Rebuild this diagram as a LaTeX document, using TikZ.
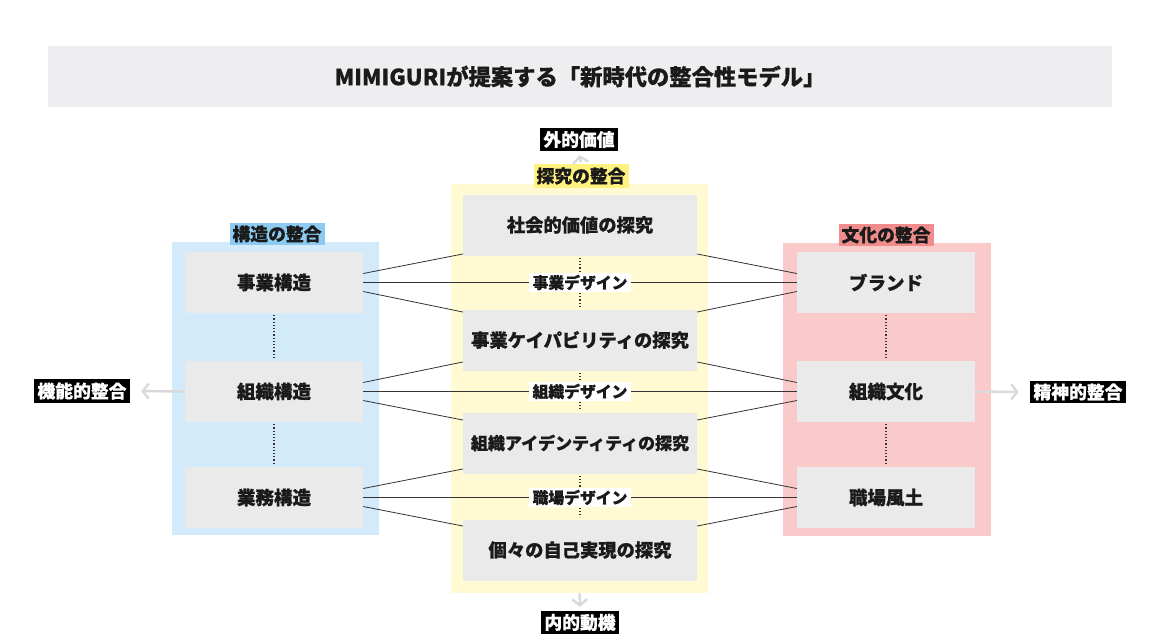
\documentclass[tikz,border=0pt]{standalone}
\usepackage{fontspec}
\setmainfont{Noto Sans CJK JP}[BoldFeatures={FakeBold=0.6}]
\usetikzlibrary{arrows.meta,calc}
\definecolor{bluep}{HTML}{D3EAFB}
\definecolor{bluel}{HTML}{8CCBF1}
\definecolor{yellowp}{HTML}{FFFAD2}
\definecolor{yellowl}{HTML}{FFF27E}
\definecolor{pinkp}{HTML}{FACACA}
\definecolor{pinkl}{HTML}{F08C8C}
\definecolor{boxg}{HTML}{EAEAEA}
\definecolor{titleg}{HTML}{EEEEF0}
\definecolor{linec}{HTML}{333333}
\definecolor{txt}{HTML}{1A1A1A}
\definecolor{arrowg}{HTML}{DADADA}
\tikzset{
  panel/.style={inner sep=0pt, draw=none},
  gbox/.style={fill=boxg, inner sep=0pt, minimum width=178pt, minimum height=61pt, text=txt, font=\bfseries\fontsize{18.5}{18.5}\selectfont},
  cbox/.style={fill=boxg, inner sep=0pt, minimum width=234pt, minimum height=61pt, text=txt, font=\bfseries\fontsize{18.3}{18.3}\selectfont},
  grouplabel/.style={inner xsep=3pt, inner ysep=3pt, text=txt, font=\bfseries\fontsize{17.8}{17.8}\selectfont},
  darklabel/.style={fill=black, text=white, inner xsep=3.5pt, inner ysep=3pt, font=\bfseries\fontsize{17.8}{17.8}\selectfont},
  designlabel/.style={fill=white, text=txt, inner xsep=3.5pt, inner ysep=1.5pt, font=\bfseries\fontsize{15.8}{15.8}\selectfont},
  conn/.style={draw=linec, line width=0.8pt},
  dots/.style={draw=linec, line width=1.2pt, dotted, shorten <=2pt, shorten >=2pt},
  softarrow/.style={draw=arrowg, line width=2.4pt, -{Straight Barb[length=6pt,width=15pt]}}
}
\begin{document}
\begin{tikzpicture}[x=1pt,y=-1pt]
\useasboundingbox (0,0) rectangle (1161,640);
\fill[white] (0,0) rectangle (1161,640);

% title
\node[fill=titleg, minimum width=1064pt, minimum height=61pt, inner sep=0pt, text=txt,
  font=\bfseries\fontsize{22.3}{22.3}\selectfont] (title) at (580,76.5) {MIMIGURIが提案する「新時代の整合性モデル」};

% panels
\node[panel, fill=bluep, minimum width=207pt, minimum height=293pt] (SP) at (275.5,388.5) {};
\node[panel, fill=yellowp, minimum width=257pt, minimum height=409pt] (YP) at (579.5,388.5) {};
\node[panel, fill=pinkp, minimum width=208pt, minimum height=293pt] (PP) at (887,389.5) {};

% group labels
\node[grouplabel, fill=bluel] (SL) at (277,234) {構造の整合};
\node[grouplabel, fill=yellowl] (YL) at (581,176) {探究の整合};
\node[grouplabel, fill=pinkl] (PL) at (886,235) {文化の整合};

% left boxes
\node[gbox] (L1) at (274,282.5) {事業構造};
\node[gbox] (L2) at (274,391.5) {組織構造};
\node[gbox] (L3) at (274,497.5) {業務構造};
% right boxes
\node[gbox] (R1) at (886,282.5) {ブランド};
\node[gbox] (R2) at (886,391.5) {組織文化};
\node[gbox] (R3) at (886,497.5) {職場風土};
% center boxes
\node[cbox] (C1) at (580,225) {社会的価値の探究};
\node[cbox] (C2) at (580,340) {事業ケイパビリティの探究};
\node[cbox, font=\bfseries\fontsize{17}{17}\selectfont] (C3) at (580,443) {組織アイデンティティの探究};
\node[cbox] (C4) at (580,550) {個々の自己実現の探究};

% dotted links
\draw[dots] (L1.south) -- (L2.north);
\draw[dots] (L2.south) -- (L3.north);
\draw[dots] (R1.south) -- (R2.north);
\draw[dots] (R2.south) -- (R3.north);
\draw[dots] (C1.south) -- (C2.north);
\draw[dots] (C2.south) -- (C3.north);
\draw[dots] (C3.south) -- (C4.north);

% connectors left
\draw[conn] ($(L1.east)+(0,-9)$) -- ($(C1.west)+(0,29)$);
\draw[conn] ($(L1.east)+(0,9)$) -- ($(C2.west)+(0,-28)$);
\draw[conn] ($(L2.east)+(0,-9)$) -- ($(C2.west)+(0,22)$);
\draw[conn] ($(L2.east)+(0,9)$) -- ($(C3.west)+(0,-23)$);
\draw[conn] ($(L3.east)+(0,-9)$) -- ($(C3.west)+(0,26)$);
\draw[conn] ($(L3.east)+(0,9)$) -- ($(C4.west)+(0,-24)$);
% connectors right
\draw[conn] ($(R1.west)+(0,-9)$) -- ($(C1.east)+(0,29)$);
\draw[conn] ($(R1.west)+(0,9)$) -- ($(C2.east)+(0,-28)$);
\draw[conn] ($(R2.west)+(0,-9)$) -- ($(C2.east)+(0,22)$);
\draw[conn] ($(R2.west)+(0,9)$) -- ($(C3.east)+(0,-23)$);
\draw[conn] ($(R3.west)+(0,-9)$) -- ($(C3.east)+(0,26)$);
\draw[conn] ($(R3.west)+(0,9)$) -- ($(C4.east)+(0,-24)$);
% horizontal
\draw[conn] (L1.east) -- (R1.west);
\draw[conn] (L2.east) -- (R2.west);
\draw[conn] (L3.east) -- (R3.west);

% design labels
\node[designlabel] (D1) at (C1 |- L1) {事業デザイン};
\node[designlabel] (D2) at (C1 |- L2) {組織デザイン};
\node[designlabel] (D3) at (C1 |- L3) {職場デザイン};

% outer labels
\node[darklabel] (EV) at (579,139.5) {外的価値};
\node[darklabel] (IM) at (580,622.5) {内的動機};
\node[darklabel] (FA) at (82,391) {機能的整合};
\node[darklabel] (SA) at (1078,392) {精神的整合};

% soft arrows
\draw[softarrow, shorten <=2pt, shorten >=4pt] (YL.north) -- (EV.south);
\draw[softarrow, shorten >=4pt] (YP.south) -- (IM.north);
\draw[softarrow, shorten >=11pt] (L2.west) -- (FA.east);
\draw[softarrow, shorten >=11pt] (R2.east) -- (SA.west);
\end{tikzpicture}
\end{document}
